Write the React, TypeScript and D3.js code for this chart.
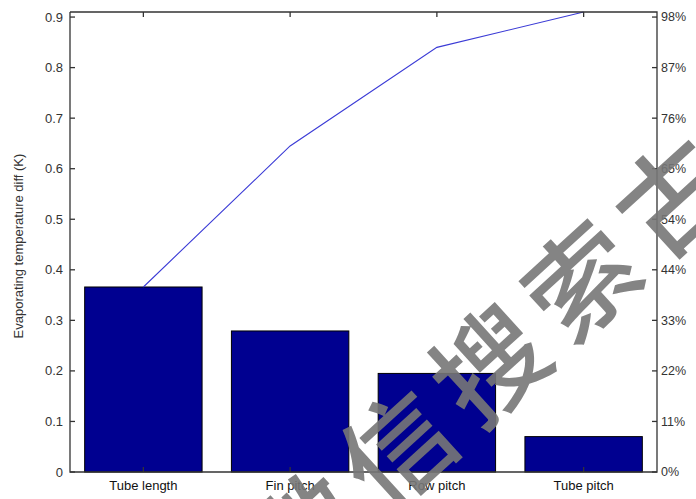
import React from "react";
import * as d3 from "d3";

const categories = ["Tube length", "Fin pitch", "Row pitch", "Tube pitch"];
const values = [0.366, 0.279, 0.195, 0.07];
const leftTicks = [0, 0.1, 0.2, 0.3, 0.4, 0.5, 0.6, 0.7, 0.8, 0.9];
const leftTickLabels = ["0", "0.1", "0.2", "0.3", "0.4", "0.5", "0.6", "0.7", "0.8", "0.9"];
const rightTickLabels = ["0%", "11%", "22%", "33%", "44%", "54%", "65%", "76%", "87%", "98%"];
const yLabel = "Evaporating temperature diff (K)";
const watermarkChars = ["微", "信", "搜", "索", "古"];

const W = 696;
const H = 499;
const left = 70;
const right = 657;
const top = 12;
const bottom = 472;

export default function App() {
  const total = d3.sum(values);
  const x = d3
    .scaleBand<string>()
    .domain(categories)
    .range([left, right])
    .paddingInner(0.2)
    .paddingOuter(0.1);
  const y = d3.scaleLinear().domain([0, total]).range([bottom, top]);
  const cum = d3.cumsum(values);
  const line = d3
    .line<number>()
    .x((_, i) => (x(categories[i]) as number) + x.bandwidth() / 2)
    .y((d) => y(d));
  const font = "Liberation Sans, Arial, Helvetica, sans-serif";
  const axisColor = "#333";
  const wmCenter = [485, 360];
  const wmStep = [92, -84];
  const wmAngle = (Math.atan2(wmStep[1], wmStep[0]) * 180) / Math.PI;
  return (
    <svg
      width={W}
      height={H}
      style={{ position: "absolute", left: 0, top: 0, background: "#fff" }}
      fontFamily={font}
    >
      <rect x={0} y={0} width={W} height={H} fill="#fff" />
      {categories.map((c, i) => (
        <rect
          key={c}
          x={x(c)}
          y={y(values[i])}
          width={x.bandwidth()}
          height={y(0) - y(values[i])}
          fill="#000090"
          stroke="#000"
          strokeWidth={1}
        />
      ))}
      <path d={line(Array.from(cum)) || ""} fill="none" stroke="#3b3bd6" strokeWidth={1.1} />
      <path
        d={`M${left},${top}V${bottom}H${right}V${top}H${left}`}
        fill="none"
        stroke={axisColor}
        strokeWidth={1.3}
      />
      {leftTicks.map((t, i) => (
        <g key={t}>
          <line x1={left} x2={left + 5} y1={y(t)} y2={y(t)} stroke={axisColor} strokeWidth={1.3} />
          <line x1={right} x2={right - 5} y1={y(t)} y2={y(t)} stroke={axisColor} strokeWidth={1.3} />
          <text x={left - 7} y={y(t)} dy="0.35em" textAnchor="end" fontSize={13} fill="#333">
            {leftTickLabels[i]}
          </text>
          <text x={right + 4} y={y(t)} dy="0.35em" textAnchor="start" fontSize={12.5} fill="#333">
            {rightTickLabels[i]}
          </text>
        </g>
      ))}
      {categories.map((c) => {
        const cx = (x(c) as number) + x.bandwidth() / 2;
        return (
          <g key={c}>
            <line x1={cx} x2={cx} y1={top} y2={top + 5} stroke={axisColor} strokeWidth={1.3} />
            <line x1={cx} x2={cx} y1={bottom} y2={bottom - 5} stroke={axisColor} strokeWidth={1.3} />
            <text x={cx} y={bottom + 18} textAnchor="middle" fontSize={13} fill="#111">
              {c}
            </text>
          </g>
        );
      })}
      <text
        transform={`translate(23,${(top + bottom) / 2 + 4}) rotate(-90)`}
        textAnchor="middle"
        fontSize={13}
        fill="#333"
      >
        {yLabel}
      </text>
      {watermarkChars.map((ch, i) => {
        const k = i - 2;
        const cx = wmCenter[0] + k * wmStep[0];
        const cy = wmCenter[1] + k * wmStep[1];
        return (
          <text
            key={i}
            transform={`translate(${cx},${cy}) rotate(${wmAngle})`}
            textAnchor="middle"
            dominantBaseline="central"
            fontSize={110}
            fontFamily="Noto Sans CJK SC"
            fontWeight={500}
            fill="#777"
            opacity={0.9}
          >
            {ch}
          </text>
        );
      })}
    </svg>
  );
}
